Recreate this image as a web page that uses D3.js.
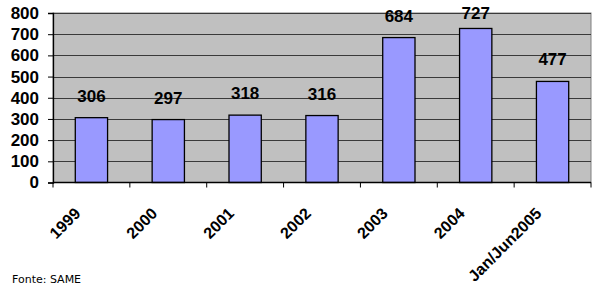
<!DOCTYPE html>
<html>
<head>
<meta charset="utf-8">
<script src="https://cdn.jsdelivr.net/npm/d3@7"></script>
<style>
  body { margin: 0; background: #fff; }
</style>
</head>
<body>
<div id="chart"></div>
<script>
// values
var years = ["1999", "2000", "2001", "2002", "2003", "2004", "Jan/Jun2005"];
var counts = [306, 297, 318, 316, 684, 727, 477];
var yTicks = [0, 100, 200, 300, 400, 500, 600, 700, 800];

var W = 600, H = 294;
var m = {left: 53, right: 9, top: 13, bottom: 112};
var boldFont = "Liberation Sans, Arial, sans-serif";

var svg = d3.select("#chart").append("svg")
	.attr("width", W)
	.attr("height", H);

var x = d3.scaleBand()
	.domain(years)
	.range([m.left, W - m.right])
	.paddingInner(0.58)
	.paddingOuter(0.29);

var y = d3.scaleLinear()
	.domain([0, 800])
	.range([H - m.bottom + 0.5, m.top]);

// plot area
svg.append("rect")
	.attr("x", m.left)
	.attr("y", m.top)
	.attr("width", W - m.right - m.left)
	.attr("height", y(0) - m.top)
	.attr("fill", "#c0c0c0")
	.attr("stroke", "#808080")
	.attr("stroke-width", 1);

//gridlines
svg.append("g").selectAll("line")
	.data(yTicks.slice(1))
	.join("line")
	.attr("x1", m.left).attr("x2", W - m.right)
	.attr("y1", function(d){ return Math.round(y(d)) + 0.5; })
	.attr("y2", function(d){ return Math.round(y(d)) + 0.5; })
	.attr("stroke", "#3a3a3a")
	.attr("stroke-width", 1);

// bars
svg.append("g").selectAll("rect")
	.data(counts)
	.join("rect")
	.attr("x", function(d, i){ return x(years[i]); })
	.attr("y", function(d){ return y(d); })
	.attr("width", x.bandwidth())
	.attr("height", function(d){ return y(0) - y(d); })
	.attr("fill", "#9999ff")
	.attr("stroke", "#000")
	.attr("stroke-width", 1.3);

// value labels (kept inside the picture like Excel does for the tallest one)
svg.append("g").selectAll("text")
	.data(counts)
	.join("text")
	.attr("x", function(d, i){ return x(years[i]) + x.bandwidth() / 2; })
	.attr("y", function(d){ return Math.max(y(d) - 16, 19); })
	.attr("text-anchor", "middle")
	.style("font-family", boldFont)
	.style("font-size", "17px")
	.style("font-weight", "bold")
	.text(function(d){ return d; });

// y axis
var yAxis = d3.axisLeft(y).tickValues(yTicks).tickSize(5).tickPadding(9);
var yg = svg.append("g")
	.attr("transform", "translate(" + m.left + ",0)")
	.call(yAxis);
yg.select(".domain").attr("stroke", "#000").attr("stroke-width", 1.3);
yg.selectAll("text")
	.style("font-family", boldFont)
	.style("font-size", "17px")
	.style("font-weight", "bold")
	.attr("fill", "#000");

// x axis: ticks at category boundaries
var bounds = d3.range(years.length + 1).map(function(i){ return m.left + i * (W - m.right - m.left) / years.length; });
svg.append("line")
	.attr("x1", m.left).attr("x2", W - m.right)
	.attr("y1", y(0)).attr("y2", y(0))
	.attr("stroke", "#000").attr("stroke-width", 1.3);
svg.append("g").selectAll("line")
	.data(bounds)
	.join("line")
	.attr("x1", function(d){ return d; }).attr("x2", function(d){ return d; })
	.attr("y1", y(0)).attr("y2", y(0) + 5)
	.attr("stroke", "#000");

svg.append("g").selectAll("text")
	.data(years)
	.join("text")
	.attr("transform", function(d){
		var cx = x(d) + x.bandwidth() / 2;
		return "translate(" + (cx - 10) + "," + (y(0) + 32) + ") rotate(-45)";
	})
	.attr("text-anchor", "end")
	.style("font-family", boldFont)
	.style("font-size", "16px")
	.style("font-weight", "bold")
	.text(function(d){ return d; });

svg.append("text")
	.attr("x", 12)
	.attr("y", 283)
	.style("font-family", "DejaVu Sans, Verdana, sans-serif")
	.style("font-size", "11px")
	.text("Fonte: SAME");
</script>
</body>
</html>
